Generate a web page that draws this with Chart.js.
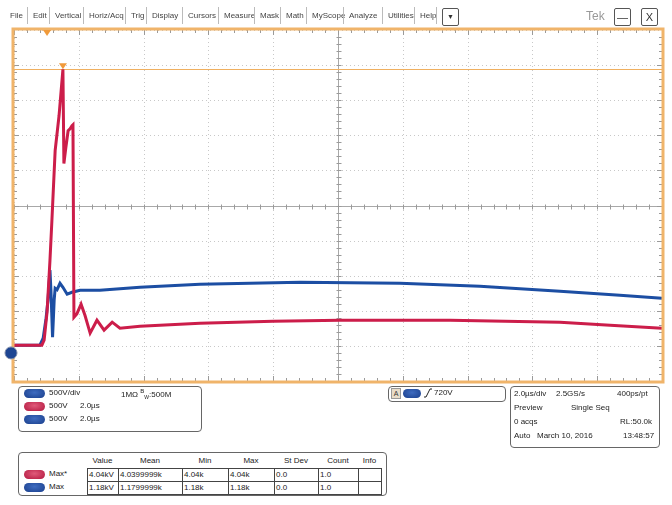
<!DOCTYPE html>
<html>
<head>
<meta charset="utf-8">
<script src="https://cdn.jsdelivr.net/npm/chart.js@4/dist/chart.umd.min.js"></script>
<style>
  body { margin: 0; background: #fff; font-family: "Liberation Sans", Arial, sans-serif; }
  #page { position: relative; width: 672px; height: 505px; overflow: hidden; background: #fff; }
  #plot { position: absolute; left: 0; top: 0; }
  .menu { position: absolute; top: 11px; font-size: 8px; color: #444; }
  .sep { position: absolute; top: 7px; width: 1px; height: 17px; background: #bbb; }
  .btn { position: absolute; top: 8px; width: 15px; height: 16px; border: 1px solid #555; border-radius: 2px; font-size: 11px; text-align: center; line-height: 16px; color: #333; }
  .panel { position: absolute; border: 1px solid #666; border-radius: 4px; }
  .t { position: absolute; font-size: 8px; color: #222; white-space: nowrap; }
  .pill { position: absolute; width: 21px; height: 9px; border-radius: 5px; }
  .blue { background: radial-gradient(ellipse at 50% 40%, #3f6cc0, #1a3f8c); }
  .red { background: radial-gradient(ellipse at 50% 40%, #e05a7a, #b3173f); }
  .cell { position: absolute; height: 12px; border: 1px solid #444; box-sizing: border-box; font-size: 8px; color: #222; padding-left: 1px; line-height: 11px; }
</style>
</head>
<body>
<div id="page">
  <canvas id="plot" width="672" height="390"></canvas>
  <div id="menubar"></div>
  <div class="btn" style="left:442px;font-size:7px;">&#9660;</div>
  <div class="menu" style="left:586px;top:9px;font-size:12px;color:#999;">Tek</div>
  <div class="btn" style="left:614px;">&#8212;</div>
  <div class="btn" style="left:641px;">X</div>

  <div class="panel" style="left:18px;top:386px;width:182px;height:44px;"></div>
  <div class="pill blue" style="left:24px;top:389px;"></div>
  <div class="t" style="left:49px;top:388px;">500V/div</div>
  <div class="t" style="left:121px;top:388px;">1M&Omega; <sup style="font-size:6px">B</sup><sub style="font-size:5px">W</sub>:500M</div>
  <div class="pill red" style="left:24px;top:402px;"></div>
  <div class="t" style="left:49px;top:401px;">500V</div>
  <div class="t" style="left:80px;top:401px;">2.0&micro;s</div>
  <div class="pill blue" style="left:24px;top:415px;"></div>
  <div class="t" style="left:49px;top:414px;">500V</div>
  <div class="t" style="left:80px;top:414px;">2.0&micro;s</div>

  <div class="panel" style="left:388px;top:386px;width:116px;height:14px;"></div>
  <div style="position:absolute;left:391px;top:388px;width:8px;height:9px;background:#e8dcc8;border:1px solid #999;font-size:7px;line-height:9px;text-align:center;color:#333;">A</div>
  <div class="pill blue" style="left:403px;top:389px;width:18px;"></div>
  <svg style="position:absolute;left:423px;top:388px;" width="10" height="10"><path d="M1 9 H3 L7 1 H9" stroke="#222" stroke-width="1" fill="none"/></svg>
  <div class="t" style="left:434px;top:388px;">720V</div>

  <div class="panel" style="left:510px;top:386px;width:148px;height:60px;"></div>
  <div class="t" style="left:514px;top:389px;">2.0&micro;s/div</div>
  <div class="t" style="left:556px;top:389px;">2.5GS/s</div>
  <div class="t" style="left:617px;top:389px;">400ps/pt</div>
  <div class="t" style="left:514px;top:403px;">Preview</div>
  <div class="t" style="left:571px;top:403px;">Single Seq</div>
  <div class="t" style="left:514px;top:417px;">0 acqs</div>
  <div class="t" style="left:620px;top:417px;">RL:50.0k</div>
  <div class="t" style="left:514px;top:431px;">Auto</div>
  <div class="t" style="left:537px;top:431px;">March 10, 2016</div>
  <div class="t" style="left:623px;top:431px;">13:48:57</div>

  <div class="panel" style="left:18px;top:452px;width:367px;height:42px;"></div>
  <div id="table"></div>
</div>

<script>
// --- data ---
// time in microseconds (2.0 us/div, 10 divisions), voltage in volts (500 V/div)
var xGrid = [0, 2, 4, 6, 8, 10, 12, 14, 16, 18, 20];
var yGrid = [-400, 100, 600, 1100, 1600, 2100, 2600, 3100, 3600, 4100, 4600];

var redTime = [0, 0.86, 0.93, 1.02, 1.11, 1.17, 1.27, 1.39, 1.51, 1.54, 1.6, 1.67, 1.73, 1.79, 1.82, 1.85, 1.94, 2.07, 2.19, 2.35, 2.56, 2.78, 3.03, 3.27, 3.89, 5.74, 8.0, 10.06, 13.46, 16.85, 18.4, 20];
var redVolts = [111, 111, 182, 580, 1319, 1887, 2881, 3378, 4040, 2697, 2924, 3165, 3194, 3236, 3250, 509, 557, 694, 537, 282, 466, 324, 438, 353, 381, 424, 450, 466, 466, 438, 395, 353];

var blueTime = [0, 0.8, 0.9, 0.99, 1.05, 1.11, 1.14, 1.19, 1.24, 1.27, 1.33, 1.42, 1.51, 1.64, 1.79, 2.04, 2.65, 3.89, 5.74, 8.83, 11.91, 14.38, 16.85, 18.7, 20];
var blueVolts = [111, 111, 211, 495, 751, 1180, 893, 225, 751, 921, 900, 992, 935, 836, 864, 893, 893, 935, 978, 1006, 992, 949, 878, 822, 779];

var menuItems = ["File", "Edit", "Vertical", "Horiz/Acq", "Trig", "Display", "Cursors", "Measure", "Mask", "Math", "MyScope", "Analyze", "Utilities", "Help"];
var menuX = [10, 33, 55, 89, 131, 152, 188, 224, 260, 286, 312, 349, 388, 420];

var tableCols = ["Value", "Mean", "Min", "Max", "St Dev", "Count", "Info"];
var redStats = ["4.04kV", "4.0399999k", "4.04k", "4.04k", "0.0", "1.0", ""];
var blueStats = ["1.18kV", "1.1799999k", "1.18k", "1.18k", "0.0", "1.0", ""];

var triggerTime = 1.02;

// --- menu bar ---
var mb = document.getElementById("menubar");
menuItems.forEach(function (m, i) {
  var d = document.createElement("div");
  d.className = "menu";
  d.style.left = menuX[i] + "px";
  d.textContent = m;
  mb.appendChild(d);
  var s = document.createElement("div");
  s.className = "sep";
  s.style.left = (i < menuItems.length - 1 ? menuX[i + 1] - 6 : 436) + "px";
  mb.appendChild(s);
});

// --- measurement table ---
var cellX = [87, 118, 182, 228, 274, 318, 358, 381];
var tb = document.getElementById("table");
tableCols.forEach(function (c, i) {
  var d = document.createElement("div");
  d.className = "t";
  d.style.left = ((cellX[i] + cellX[i + 1]) / 2 - 12) + "px";
  d.style.width = "24px";
  d.style.textAlign = "center";
  d.style.top = "456px";
  d.textContent = c;
  tb.appendChild(d);
});
[[redStats, "red", "Max*", 468], [blueStats, "blue", "Max", 481]].forEach(function (row) {
  var p = document.createElement("div");
  p.className = "pill " + row[1];
  p.style.left = "24px";
  p.style.top = (row[3] + 2) + "px";
  tb.appendChild(p);
  var l = document.createElement("div");
  l.className = "t";
  l.style.left = "49px";
  l.style.top = (row[3] + 1) + "px";
  l.textContent = row[2];
  tb.appendChild(l);
  row[0].forEach(function (v, i) {
    var c = document.createElement("div");
    c.className = "cell";
    c.style.left = cellX[i] + "px";
    c.style.width = (cellX[i + 1] - cellX[i] + 1) + "px";
    c.style.top = row[3] + "px";
    c.style.height = "14px";
    c.textContent = v;
    tb.appendChild(c);
  });
});

function pts(t, v) {
  return t.map(function (x, i) { return { x: x, y: v[i] }; });
}

// graticule, border and markers
var scopeScreen = {
  id: "scopeScreen",
  beforeDatasetsDraw: function (chart) {
    var ctx = chart.ctx, a = chart.chartArea, xs = chart.scales.x, ys = chart.scales.y;
    ctx.save();
    ctx.strokeStyle = "#c8c8c8";
    ctx.lineWidth = 1;
    ctx.setLineDash([1, 3]);
    xGrid.forEach(function (t) {
      var px = Math.round(xs.getPixelForValue(t)) + 0.5;
      ctx.beginPath(); ctx.moveTo(px, a.top); ctx.lineTo(px, a.bottom); ctx.stroke();
    });
    yGrid.forEach(function (v) {
      var py = Math.round(ys.getPixelForValue(v)) + 0.5;
      ctx.beginPath(); ctx.moveTo(a.left, py); ctx.lineTo(a.right, py); ctx.stroke();
    });
    ctx.setLineDash([]);
    // center crosshair
    var cx = Math.round(xs.getPixelForValue(xGrid[5])) + 0.5;
    var cy = Math.round(ys.getPixelForValue(yGrid[5])) + 0.5;
    ctx.strokeStyle = "#a8a8a8";
    ctx.beginPath();
    ctx.moveTo(cx, a.top); ctx.lineTo(cx, a.bottom);
    ctx.moveTo(a.left, cy); ctx.lineTo(a.right, cy);
    ctx.stroke();
    // minor ticks on crosshair and on the edges
    ctx.strokeStyle = "#9a9a9a";
    ctx.beginPath();
    for (var i = 0; i < xGrid.length - 1; i++) {
      for (var k = 0; k < 5; k++) {
        var t = xGrid[i] + (xGrid[i + 1] - xGrid[i]) * k / 5;
        var px = Math.round(xs.getPixelForValue(t)) + 0.5;
        var len = k === 0 ? 5 : 3;
        ctx.moveTo(px, cy - 2); ctx.lineTo(px, cy + 3);
        ctx.moveTo(px, a.top); ctx.lineTo(px, a.top + len);
        ctx.moveTo(px, a.bottom); ctx.lineTo(px, a.bottom - len);
      }
    }
    for (var j = 0; j < yGrid.length - 1; j++) {
      for (var m = 0; m < 5; m++) {
        var v = yGrid[j] + (yGrid[j + 1] - yGrid[j]) * m / 5;
        var py = Math.round(ys.getPixelForValue(v)) + 0.5;
        var l2 = m === 0 ? 5 : 3;
        ctx.moveTo(cx - 2, py); ctx.lineTo(cx + 3, py);
        ctx.moveTo(a.left, py); ctx.lineTo(a.left + l2, py);
        ctx.moveTo(a.right, py); ctx.lineTo(a.right - l2, py);
      }
    }
    ctx.stroke();
    // cursor at red maximum
    var maxV = Math.max.apply(null, redVolts);
    var my = Math.round(ys.getPixelForValue(maxV)) + 0.5;
    ctx.strokeStyle = "#f0b060";
    ctx.beginPath(); ctx.moveTo(a.left, my); ctx.lineTo(a.right, my); ctx.stroke();
    ctx.restore();
  },
  afterDatasetsDraw: function (chart) {
    var ctx = chart.ctx, a = chart.chartArea, xs = chart.scales.x, ys = chart.scales.y;
    ctx.save();
    // border
    ctx.strokeStyle = "#f0b46a";
    ctx.lineWidth = 3;
    ctx.strokeRect(a.left - 1, a.top - 1, a.right - a.left + 2, a.bottom - a.top + 2);
    // markers
    function tri(x, y) {
      ctx.beginPath(); ctx.moveTo(x - 4, y); ctx.lineTo(x + 4, y); ctx.lineTo(x, y + 6); ctx.closePath(); ctx.fill();
    }
    ctx.fillStyle = "#f09a3a";
    tri(xs.getPixelForValue(triggerTime), a.top);
    var maxV = Math.max.apply(null, redVolts);
    var peakT = redTime[redVolts.indexOf(maxV)];
    tri(xs.getPixelForValue(peakT), ys.getPixelForValue(maxV) - 6);
    // channel ground marker
    var gy = ys.getPixelForValue(0);
    ctx.fillStyle = "#1d4592";
    ctx.strokeStyle = "#7c8aa8";
    ctx.lineWidth = 1;
    ctx.beginPath(); ctx.arc(a.left - 3, gy, 6, 0, Math.PI * 2); ctx.fill(); ctx.stroke();
    ctx.restore();
  }
};

new Chart(document.getElementById("plot"), {
  type: "line",
  data: {
    datasets: [
      { label: "Ch red", data: pts(redTime, redVolts), borderColor: "#cc1d4a", borderWidth: 3, pointRadius: 0, tension: 0 },
      { label: "Ch blue", data: pts(blueTime, blueVolts), borderColor: "#1c4ea3", borderWidth: 3, pointRadius: 0, tension: 0 }
    ]
  },
  options: {
    responsive: false,
    animation: false,
    layout: { padding: { left: 14, right: 10, top: 30, bottom: 9 } },
    plugins: { legend: { display: false }, tooltip: { enabled: false } },
    scales: {
      x: { type: "linear", display: false, min: xGrid[0], max: xGrid[xGrid.length - 1] },
      y: { type: "linear", display: false, min: yGrid[0], max: yGrid[yGrid.length - 1] }
    }
  },
  plugins: [scopeScreen]
});
</script>
</body>
</html>
